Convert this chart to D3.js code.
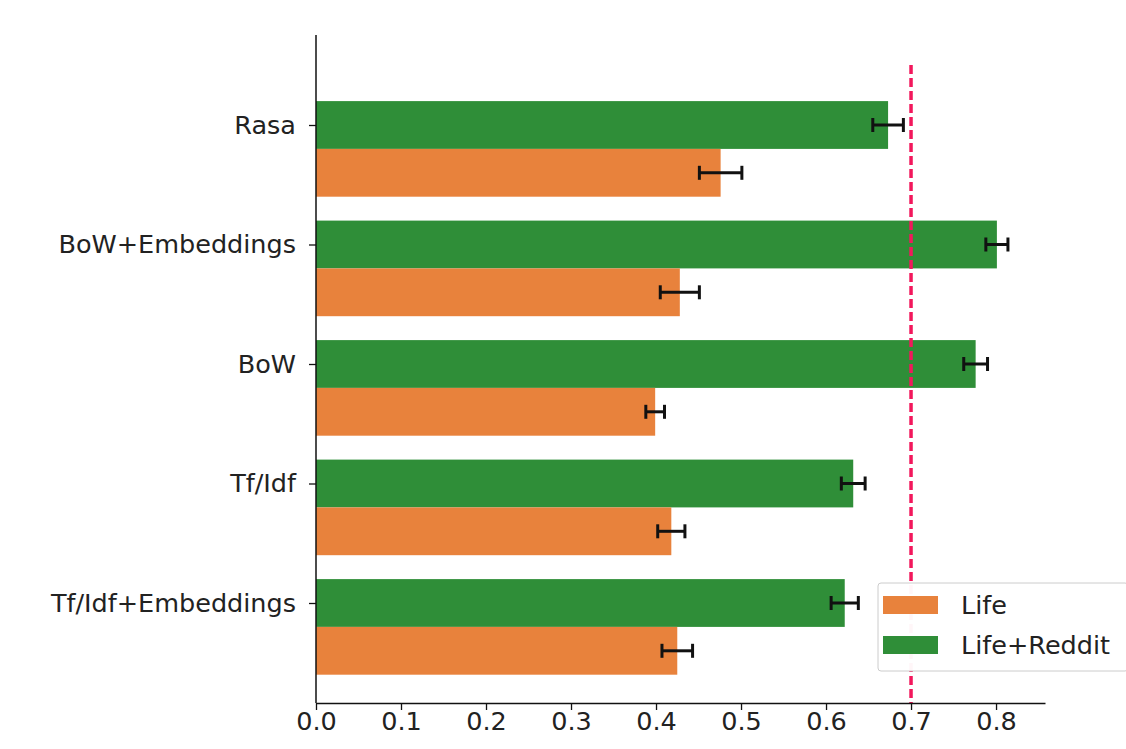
<!DOCTYPE html>
<html>
<head>
<meta charset="utf-8">
<script src="https://cdn.jsdelivr.net/npm/d3@7"></script>
<style>
  html, body { margin: 0; padding: 0; background: #fff; }
  svg { display: block; font-family: "DejaVu Sans", sans-serif; }
</style>
</head>
<body>
<svg id="chart" width="1126" height="749"></svg>
<script>
const categories = ["Rasa", "BoW+Embeddings", "BoW", "Tf/Idf", "Tf/Idf+Embeddings"];
const lifeValues = [0.476, 0.428, 0.399, 0.418, 0.425];
const lifeErrors = [0.025, 0.023, 0.011, 0.016, 0.018];
const redditValues = [0.673, 0.801, 0.776, 0.632, 0.622];
const redditErrors = [0.018, 0.013, 0.014, 0.014, 0.016];
const seriesNames = ["Life", "Life+Reddit"];
const xTicks = [0.0, 0.1, 0.2, 0.3, 0.4, 0.5, 0.6, 0.7, 0.8];
const threshold = 0.7;

const colors = { life: "#e8823c", reddit: "#2f8e38", line: "#f2185c" };
const fontSize = 25.5;

const svg = d3.select("#chart");
const plotLeft = 316, plotRight = 1045, plotTop = 35, plotBottom = 703;

const x = d3.scaleLinear().domain([0, 0.8576]).range([plotLeft, plotRight]);
const y = d3.scalePoint().domain(categories).range([125, 603]);
const barH = y.step() * 0.4;

const g = svg.append("g");

// green bars (centered on tick)
g.selectAll("rect.reddit").data(categories).join("rect")
  .attr("class", "reddit")
  .attr("x", x(0))
  .attr("y", c => y(c) - barH / 2)
  .attr("width", (c, i) => x(redditValues[i]) - x(0))
  .attr("height", barH)
  .attr("fill", colors.reddit);

// orange bars (below)
g.selectAll("rect.life").data(categories).join("rect")
  .attr("class", "life")
  .attr("x", x(0))
  .attr("y", c => y(c) + barH / 2)
  .attr("width", (c, i) => x(lifeValues[i]) - x(0))
  .attr("height", barH)
  .attr("fill", colors.life);

// error bars
function errorBars(vals, errs, offset) {
  const eg = g.append("g").attr("stroke", "#111").attr("stroke-width", 3);
  categories.forEach((c, i) => {
    const cy = y(c) + offset;
    const x0 = x(vals[i] - errs[i]), x1 = x(vals[i] + errs[i]);
    eg.append("line").attr("x1", x0).attr("x2", x1).attr("y1", cy).attr("y2", cy);
    eg.append("line").attr("x1", x0).attr("x2", x0).attr("y1", cy - 7).attr("y2", cy + 7);
    eg.append("line").attr("x1", x1).attr("x2", x1).attr("y1", cy - 7).attr("y2", cy + 7);
  });
}
errorBars(redditValues, redditErrors, 0);
errorBars(lifeValues, lifeErrors, barH);

// threshold line
g.append("line")
  .attr("x1", x(threshold)).attr("x2", x(threshold))
  .attr("y1", 65).attr("y2", plotBottom)
  .attr("stroke", colors.line)
  .attr("stroke-width", 3.5)
  .attr("stroke-dasharray", "9,4");

// axes
const xAxis = svg.append("g")
  .attr("transform", `translate(0,${plotBottom})`)
  .call(d3.axisBottom(x).tickValues(xTicks).tickFormat(d3.format(".1f")).tickSize(7).tickPadding(2).tickSizeOuter(0));
xAxis.select(".domain").attr("stroke", "#111").attr("stroke-width", 1.5);
xAxis.selectAll(".tick line").attr("stroke", "#111").attr("stroke-width", 1.3);
xAxis.selectAll(".tick text").attr("font-size", fontSize).attr("fill", "#222").attr("font-family", "DejaVu Sans");

const yAxis = svg.append("g")
  .attr("transform", `translate(${plotLeft},0)`)
  .call(d3.axisLeft(y).tickSize(7).tickPadding(13).tickSizeOuter(0));
yAxis.select(".domain").remove();
yAxis.append("line").attr("x1", 0).attr("x2", 0).attr("y1", plotTop).attr("y2", plotBottom)
  .attr("stroke", "#111").attr("stroke-width", 1.5);
yAxis.selectAll(".tick line").attr("stroke", "#111").attr("stroke-width", 1.3);
yAxis.selectAll(".tick text").attr("font-size", fontSize).attr("fill", "#222").attr("font-family", "DejaVu Sans");

// legend
const lg = svg.append("g").attr("transform", "translate(878,583)");
lg.append("rect").attr("x", 0).attr("y", 0).attr("width", 250).attr("height", 88)
  .attr("rx", 3).attr("fill", "#fff").attr("fill-opacity", 0.96).attr("stroke", "#ccc").attr("stroke-width", 1);
const legendColors = [colors.life, colors.reddit];
seriesNames.forEach((name, i) => {
  const row = lg.append("g").attr("transform", `translate(5,${13 + i * 40})`);
  row.append("rect").attr("width", 55).attr("height", 18).attr("fill", legendColors[i]);
  row.append("text").attr("x", 78).attr("y", 9).attr("dy", "0.35em")
    .attr("font-size", fontSize).attr("fill", "#222").text(name);
});
</script>
</body>
</html>
